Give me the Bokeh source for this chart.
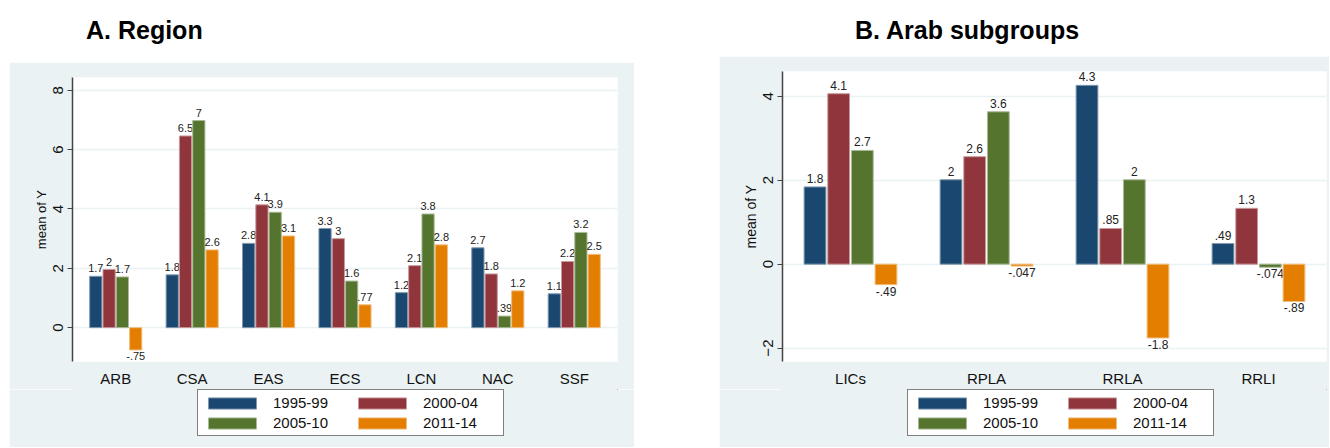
from bokeh.plotting import figure
from bokeh.models import (ColumnDataSource, FactorRange, Range1d, Legend, LegendItem,
                          FixedTicker, Div, Spacer)
from bokeh.layouts import row, column
from bokeh.transform import dodge
from bokeh.embed import file_html
from bokeh.resources import INLINE
from bokeh.core.properties import value

# ---------------- data ----------------
periods = ["1995-99", "2000-04", "2005-10", "2011-14"]

region_cats = ["ARB", "CSA", "EAS", "ECS", "LCN", "NAC", "SSF"]
region_1995 = [1.73, 1.78, 2.84, 3.34, 1.18, 2.69, 1.14]
region_2000 = [1.96, 6.46, 4.14, 3.00, 2.09, 1.81, 2.23]
region_2005 = [1.71, 6.98, 3.89, 1.57, 3.83, 0.39, 3.21]
region_2011 = [-0.75, 2.62, 3.09, 0.77, 2.79, 1.24, 2.47]
region_lab_1995 = ["1.7", "1.8", "2.8", "3.3", "1.2", "2.7", "1.1"]
region_lab_2000 = ["2", "6.5", "4.1", "3", "2.1", "1.8", "2.2"]
region_lab_2005 = ["1.7", "7", "3.9", "1.6", "3.8", ".39", "3.2"]
region_lab_2011 = ["-.75", "2.6", "3.1", ".77", "2.8", "1.2", "2.5"]
region_yticks = [0, 2, 4, 6, 8]

arab_cats = ["LICs", "RPLA", "RRLA", "RRLI"]
arab_1995 = [1.84, 2.01, 4.26, 0.49]
arab_2000 = [4.06, 2.56, 0.85, 1.33]
arab_2005 = [2.71, 3.63, 2.01, -0.074]
arab_2011 = [-0.49, -0.047, -1.76, -0.89]
arab_lab_1995 = ["1.8", "2", "4.3", ".49"]
arab_lab_2000 = ["4.1", "2.6", ".85", "1.3"]
arab_lab_2005 = ["2.7", "3.6", "2", "-.074"]
arab_lab_2011 = ["-.49", "-.047", "-1.8", "-.89"]
arab_yticks = [-2, 0, 2, 4]

# ---------------- style ----------------
FILL = ["#1a476f", "#90353b", "#55752f", "#e37e00"]
EDGE = ["#7f98ae", "#c89a9d", "#a9ba96", "#f0be7f"]
GRAPH_BG = "#eaf2f3"
FONT = "Liberation Sans"
STEP = 0.174
BAR_W = 0.16


def make_panel(cats, series, labels, y0, y1, yticks, width, height,
               b_left, b_right, b_top, b_bottom, pad, label_size, ylab_size):
    p = figure(x_range=FactorRange(*cats, range_padding=pad, range_padding_units="absolute"),
               y_range=Range1d(y0, y1), width=width, height=height,
               output_backend="svg", toolbar_location=None)
    p.min_border_left = b_left
    p.min_border_right = b_right
    p.min_border_top = b_top
    p.min_border_bottom = b_bottom
    p.background_fill_color = "white"
    p.border_fill_color = GRAPH_BG
    p.outline_line_color = None
    p.xgrid.grid_line_color = None
    p.ygrid.grid_line_color = GRAPH_BG
    p.ygrid.grid_line_width = 1.5

    for i, (vals, labs) in enumerate(zip(series, labels)):
        off = (i - 1.5) * STEP
        src = ColumnDataSource(dict(x=cats, top=vals, lab=labs))
        p.vbar(x=dodge("x", off, range=p.x_range), top="top", bottom=0, width=BAR_W,
               source=src, fill_color=FILL[i], line_color=EDGE[i], line_width=1)
        pos = [j for j, v in enumerate(vals) if v >= 0]
        neg = [j for j, v in enumerate(vals) if v < 0]
        if pos:
            sp = ColumnDataSource(dict(x=[cats[j] for j in pos], y=[vals[j] for j in pos],
                                       lab=[labs[j] for j in pos]))
            p.text(x=dodge("x", off, range=p.x_range), y="y", text="lab", source=sp,
                   text_align="center", text_baseline="bottom", y_offset=-4,
                   text_font=value(FONT), text_font_size=label_size, text_color="#222222")
        if neg:
            sn = ColumnDataSource(dict(x=[cats[j] for j in neg], y=[vals[j] for j in neg],
                                       lab=[labs[j] for j in neg]))
            p.text(x=dodge("x", off, range=p.x_range), y="y", text="lab", source=sn,
                   text_align="center", text_baseline="top", y_offset=2,
                   text_font=value(FONT), text_font_size=label_size, text_color="#222222")

    ya = p.yaxis[0]
    ya.ticker = FixedTicker(ticks=yticks)
    ya.major_label_orientation = "vertical"
    ya.major_label_text_font = FONT
    ya.major_label_text_font_size = "15px"
    ya.major_label_text_color = "#111111"
    ya.major_label_standoff = 4
    ya.major_tick_out = 5
    ya.major_tick_in = 0
    ya.minor_tick_line_color = None
    ya.axis_line_color = "#444444"
    ya.axis_line_width = 1.5
    ya.major_tick_line_color = "#444444"
    ya.axis_label = "mean of Y"
    ya.axis_label_text_font = FONT
    ya.axis_label_text_font_style = "normal"
    ya.axis_label_text_font_size = ylab_size
    ya.axis_label_text_color = "#111111"
    ya.axis_label_standoff = 2

    xa = p.xaxis[0]
    xa.axis_line_color = None
    xa.major_tick_line_color = None
    xa.minor_tick_line_color = None
    xa.major_label_text_font = FONT
    xa.major_label_text_font_size = "15px"
    xa.major_label_text_color = "#111111"
    xa.major_label_standoff = 2
    return p


def make_legend_fig(width, height, lx, ly):
    # the legend lives in its own strip below the chart
    q = figure(width=width, height=height, x_range=Range1d(0, 1), y_range=Range1d(0, 1),
               output_backend="svg", toolbar_location=None,
               x_axis_location=None, y_axis_location=None, min_border=0)
    q.background_fill_color = GRAPH_BG
    q.border_fill_color = GRAPH_BG
    # an outline in the background colour hides the seams round the frame
    q.outline_line_color = GRAPH_BG
    q.outline_line_width = 3
    q.grid.grid_line_color = None
    items = []
    for i, name in enumerate(periods):
        # one point placed outside the visible range, only to key the legend
        r = q.vbar(x=[5.0], top=[5.0], bottom=[4.0], width=0.1,
                   fill_color=FILL[i], line_color=EDGE[i], line_width=1)
        items.append(LegendItem(label=name, renderers=[r]))
    leg = Legend(items=items, orientation="horizontal", ncols=2, location=(lx, ly),
                 glyph_width=60, glyph_height=14, label_standoff=11, label_width=76,
                 spacing=3, padding=4, margin=0,
                 border_line_color="black", border_line_width=1.2,
                 background_fill_color="white", background_fill_alpha=1.0,
                 label_text_font=FONT, label_text_font_size="15px",
                 label_text_color="#111111")
    q.add_layout(leg, "center")
    return q


pA = make_panel(region_cats, [region_1995, region_2000, region_2005, region_2011],
                [region_lab_1995, region_lab_2000, region_lab_2005, region_lab_2011],
                -1.14, 8.43, region_yticks, 625, 327, 63, 17, 15, 26, 0.066,
                "11px", "13px")
pB = make_panel(arab_cats, [arab_1995, arab_2000, arab_2005, arab_2011],
                [arab_lab_1995, arab_lab_2000, arab_lab_2005, arab_lab_2011],
                -2.32, 4.59, arab_yticks, 610, 333, 63, 3, 15, 26, 0.0,
                "12px", "14px")
lA = make_legend_fig(625, 58, 125, 11)
lB = make_legend_fig(610, 58, 125, 11)

TSTYLE = "font-family:'Liberation Sans',Arial,sans-serif;font-weight:bold;font-size:25px;white-space:nowrap;color:#000;"
divA = Div(text=f"<div style=\"{TSTYLE}padding-left:77px;padding-top:13px;\">A. Region</div>",
           width=625, height=62, margin=0)
divB = Div(text=f"<div style=\"{TSTYLE}padding-left:136px;padding-top:13px;\">B. Arab subgroups</div>",
           width=610, height=56, margin=0)

layout = row(Spacer(width=9, height=10), column(divA, pA, lA, spacing=0),
             Spacer(width=85, height=10), column(divB, pB, lB, spacing=0), spacing=0)

with open("out.html", "w") as f:
    f.write(file_html(layout, INLINE))
